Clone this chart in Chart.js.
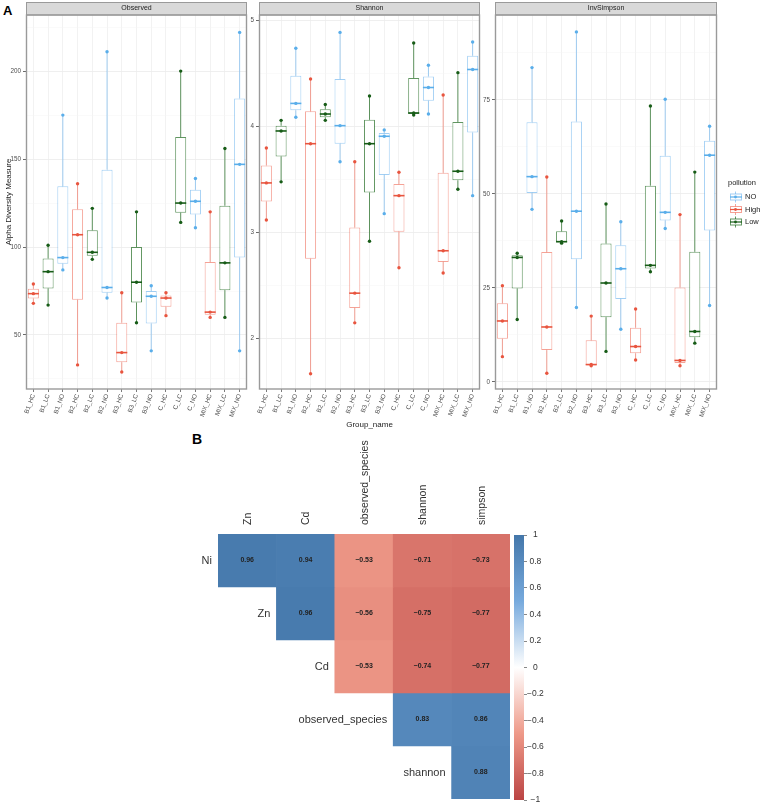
<!DOCTYPE html>
<html><head><meta charset="utf-8">
<script src="https://cdn.jsdelivr.net/npm/chart.js@4.4.1/dist/chart.umd.min.js"></script>
<style>
html,body{margin:0;padding:0;background:#fff;width:761px;height:804px;overflow:hidden;font-family:"Liberation Sans",Arial,sans-serif}
canvas{position:absolute}
.lbl{position:absolute;font-weight:bold;color:#000;line-height:1}
</style></head><body>
<div class="lbl" style="left:3px;top:4px;font-size:13px">A</div>
<div class="lbl" style="left:192px;top:432px;font-size:14px">B</div>
<canvas id="cObs" width="250" height="440" style="left:0px;top:0px"></canvas>
<canvas id="cSha" width="250" height="440" style="left:235px;top:0px"></canvas>
<canvas id="cInv" width="291" height="440" style="left:470px;top:0px"></canvas>
<canvas id="cHeat" width="370" height="374" style="left:150px;top:430px"></canvas>
<canvas id="cBar" width="60" height="285" style="left:505px;top:525px"></canvas>
<script>
// ---------------- DATA ----------------
const groups = ['B1_HC','B1_LC','B1_NO','B2_HC','B2_LC','B2_NO','B3_HC','B3_LC','B3_NO','C_HC','C_LC','C_NO','MIX_HC','MIX_LC','MIX_NO'];
const groupPollution = ['High','Low','NO','High','Low','NO','High','Low','NO','High','Low','NO','High','Low','NO'];
const pollutionLevels = ['NO','High','Low'];

// three samples per group (lowest, middle, highest)
const observedLow  = [68, 67, 87, 33, 93, 71, 29, 57, 41, 61, 114, 111, 60, 60, 41];
const observedMid  = [73.5, 86, 94, 107, 97, 77, 40, 80, 72, 71, 125, 126, 63, 91, 147];
const observedHigh = [79, 101, 175, 136, 122, 211, 74, 120, 78, 74, 200, 139, 120, 156, 222];

const shannonLow  = [3.12, 3.48, 4.09, 1.67, 4.06, 3.67, 2.15, 2.92, 3.18, 2.67, 4.11, 4.12, 2.62, 3.41, 3.35];
const shannonMid  = [3.47, 3.96, 4.22, 3.84, 4.12, 4.01, 2.43, 3.84, 3.91, 3.35, 4.13, 4.37, 2.83, 3.58, 4.54];
const shannonHigh = [3.80, 4.06, 4.74, 4.45, 4.21, 4.89, 3.67, 4.29, 3.97, 3.57, 4.79, 4.58, 4.30, 4.51, 4.80];

const invSimpsonLow  = [6.7, 16.6, 45.9, 2.3, 36.9, 19.8, 4.3, 8.1, 14.0, 5.8, 29.3, 40.8, 4.3, 10.3, 20.3];
const invSimpsonMid  = [16.2, 33.1, 54.6, 14.6, 37.3, 45.4, 4.6, 26.3, 30.1, 9.4, 31.0, 45.1, 5.7, 13.4, 60.3];
const invSimpsonHigh = [25.6, 34.2, 83.6, 54.5, 42.8, 93.1, 17.5, 47.3, 42.6, 19.4, 73.4, 75.2, 44.5, 55.8, 68.0];

const observedRange = [19.3, 231.9];
const observedTicks = [50, 100, 150, 200];
const observedTickLabels = ['50', '100', '150', '200'];
const observedMinor = [25, 75, 125, 175, 225];

const shannonRange = [1.526, 5.054];
const shannonTicks = [2, 3, 4, 5];
const shannonTickLabels = ['2', '3', '4', '5'];
const shannonMinor = [2.5, 3.5, 4.5];

const invSimpsonRange = [-1.9, 97.6];
const invSimpsonTicks = [0, 25, 50, 75];
const invSimpsonTickLabels = ['0', '25', '50', '75'];
const invSimpsonMinor = [12.5, 37.5, 62.5, 87.5];

// correlation matrix (upper triangle)
const corrCols = ['Zn', 'Cd', 'observed_species', 'shannon', 'simpson'];
const corrRows = ['Ni', 'Zn', 'Cd', 'observed_species', 'shannon'];
const corrNi      = [0.96, 0.94, -0.53, -0.71, -0.73];
const corrZn      = [null, 0.96, -0.56, -0.75, -0.77];
const corrCd      = [null, null, -0.53, -0.74, -0.77];
const corrObs     = [null, null, null, 0.83, 0.86];
const corrShannon = [null, null, null, null, 0.88];
const corrMatrix = [corrNi, corrZn, corrCd, corrObs, corrShannon];
const colorbarTicks = [-1, -0.8, -0.6, -0.4, -0.2, 0, 0.2, 0.4, 0.6, 0.8, 1];
const colorbarTickLabels = ['\u22121', '\u22120.8', '\u22120.6', '\u22120.4', '\u22120.2', '0', '0.2', '0.4', '0.6', '0.8', '1'];

// ---------------- STYLE ----------------
const FONT = '"Liberation Sans", Arial, Helvetica, sans-serif';
Chart.defaults.font.family = FONT;
Chart.defaults.animation = false;
Chart.defaults.events = [];
Chart.defaults.plugins.legend.display = false;
Chart.defaults.plugins.tooltip.enabled = false;

const boxColor   = {NO: 'rgba(100,175,236,0.6)', High: 'rgba(238,100,80,0.6)', Low: 'rgba(30,105,30,0.7)'};
const pointColor = {NO: '#5aaeea', High: '#e8553f', Low: '#175c17'};
const paletteStops = [[-1, [187,68,68]], [-0.5, [238,153,136]], [0, [255,255,255]], [0.5, [119,170,221]], [1, [68,119,170]]];

function corrColor(v) {
  for (let i = 0; i < paletteStops.length - 1; i++) {
    const [a, ca] = paletteStops[i], [b, cb] = paletteStops[i + 1];
    if (v >= a && v <= b) {
      const t = (v - a) / (b - a);
      const c = ca.map((x, k) => Math.round(x + (cb[k] - x) * t));
      return `rgb(${c[0]},${c[1]},${c[2]})`;
    }
  }
  return '#fff';
}
function fmtNum(v) { const s = v.toFixed(2); return s.replace('-', '\u2212'); }

function quantile(sorted, p) {
  const h = (sorted.length - 1) * p, lo = Math.floor(h), hi = Math.min(lo + 1, sorted.length - 1);
  return sorted[lo] + (h - lo) * (sorted[hi] - sorted[lo]);
}
function boxStats(lo, mid, hi) {
  return lo.map((_, i) => {
    const s = [lo[i], mid[i], hi[i]].sort((a, b) => a - b);
    return {min: s[0], q1: quantile(s, 0.25), med: quantile(s, 0.5), q3: quantile(s, 0.75), max: s[s.length - 1]};
  });
}

// ---------------- PANEL PLUGIN ----------------
const panelPlugin = {
  id: 'panel',
  beforeDraw(chart) {
    const {ctx, chartArea: a} = chart;
    ctx.save(); ctx.fillStyle = '#fff'; ctx.fillRect(a.left, a.top, a.right - a.left, a.bottom - a.top); ctx.restore();
  },
  beforeDatasetsDraw(chart) {
    const o = chart.options.plugins.panel; const st = o.stats;
    const {ctx} = chart; const y = chart.scales.y; const meta = chart.getDatasetMeta(0);
    ctx.save(); ctx.lineWidth = 1;
    meta.data.forEach((el, i) => {
      ctx.strokeStyle = boxColor[groupPollution[i]];
      ctx.beginPath();
      ctx.moveTo(el.x, y.getPixelForValue(st[i].min)); ctx.lineTo(el.x, y.getPixelForValue(st[i].q1));
      ctx.moveTo(el.x, y.getPixelForValue(st[i].q3)); ctx.lineTo(el.x, y.getPixelForValue(st[i].max));
      ctx.stroke();
    });
    ctx.restore();
  },
  afterDatasetDraw(chart, args) {
    if (args.index !== 0) return;
    const o = chart.options.plugins.panel; const st = o.stats;
    const {ctx} = chart; const y = chart.scales.y; const meta = chart.getDatasetMeta(0);
    ctx.save(); ctx.lineWidth = 1.6;
    meta.data.forEach((el, i) => {
      ctx.strokeStyle = pointColor[groupPollution[i]];
      const py = y.getPixelForValue(st[i].med);
      ctx.beginPath(); ctx.moveTo(el.x - el.width / 2, py); ctx.lineTo(el.x + el.width / 2, py); ctx.stroke();
    });
    ctx.restore();
  },
  afterDraw(chart) {
    const o = chart.options.plugins.panel;
    const {ctx, chartArea: a} = chart;
    ctx.save();
    // strip
    ctx.fillStyle = '#d9d9d9'; ctx.strokeStyle = '#9a9a9a'; ctx.lineWidth = 1;
    ctx.fillRect(a.left, a.top - 13, a.right - a.left, 13);
    ctx.strokeRect(a.left + 0.5, a.top - 12.5, a.right - a.left - 1, 12.5);
    ctx.fillStyle = '#1a1a1a'; ctx.font = '7px ' + FONT; ctx.textAlign = 'center'; ctx.textBaseline = 'middle';
    ctx.fillText(o.title, (a.left + a.right) / 2, a.top - 6.5);
    // border
    ctx.strokeStyle = '#9a9a9a'; ctx.lineWidth = 1.4;
    ctx.strokeRect(a.left + 0.5, a.top, a.right - a.left - 1, a.bottom - a.top);
    // legend
    if (o.legend) {
      const x0 = a.right + 11;
      ctx.fillStyle = '#1a1a1a'; ctx.font = '7.5px ' + FONT; ctx.textAlign = 'left'; ctx.textBaseline = 'middle';
      ctx.fillText('pollution', x0, 183);
      const ys = [197, 209.5, 222];
      pollutionLevels.forEach((lv, k) => {
        const yy = ys[k], bx = x0 + 2, bw = 11, cx = bx + bw / 2;
        ctx.strokeStyle = boxColor[lv]; ctx.lineWidth = 1;
        ctx.beginPath(); ctx.moveTo(cx, yy - 5.5); ctx.lineTo(cx, yy - 3); ctx.moveTo(cx, yy + 3); ctx.lineTo(cx, yy + 5.5); ctx.stroke();
        ctx.strokeRect(bx + 0.5, yy - 3, bw, 6);
        ctx.strokeStyle = pointColor[lv]; ctx.lineWidth = 1.2;
        ctx.beginPath(); ctx.moveTo(bx, yy); ctx.lineTo(bx + bw + 1, yy); ctx.stroke();
        ctx.fillStyle = pointColor[lv]; ctx.beginPath(); ctx.arc(cx, yy, 1.4, 0, Math.PI * 2); ctx.fill();
        ctx.fillStyle = '#1a1a1a'; ctx.fillText(lv, x0 + 17, yy);
      });
    }
    ctx.restore();
  }
};

function makePanel(id, title, lo, mid, hi, range, ticks, tickLabels, minor, yWidth, rightPad, yTitle, xTitle, legend) {
  const st = boxStats(lo, mid, hi);
  const allTicks = [...minor, ...ticks].sort((a, b) => a - b);
  const isMajor = v => ticks.some(t => Math.abs(t - v) < 1e-9);
  const ptDs = (key) => ({
    type: 'line', data: st.map(s => s[key]), showLine: false, order: 0,
    pointRadius: 1.7, pointHoverRadius: 0, pointBorderWidth: 0,
    pointBackgroundColor: groupPollution.map(p => pointColor[p]), pointBorderColor: groupPollution.map(p => pointColor[p])
  });
  return new Chart(document.getElementById(id), {
    type: 'bar',
    data: {
      labels: groups,
      datasets: [
        { type: 'bar', order: 2, data: st.map(s => [s.q1, s.q3]), backgroundColor: '#ffffff',
          borderColor: groupPollution.map(p => boxColor[p]), borderWidth: 1, borderSkipped: false,
          categoryPercentage: 0.75, barPercentage: 1 },
        ptDs('min'), ptDs('med'), ptDs('max')
      ]
    },
    options: {
      responsive: false, devicePixelRatio: 1,
      layout: {padding: {left: 0, right: rightPad, top: 15, bottom: 0}},
      plugins: {panel: {title: title, stats: st, legend: legend}},
      scales: {
        x: {
          offset: true,
          grid: {offset: false, color: '#ececec', lineWidth: 0.7, tickLength: 3, tickColor: '#444', drawTicks: true},
          border: {display: false},
          ticks: {font: {size: 6.3}, color: '#4d4d4d', minRotation: 70, maxRotation: 70, autoSkip: false, padding: 1},
          title: {display: !!xTitle, text: xTitle || '', font: {size: 8}, color: '#1a1a1a', padding: {top: 0, bottom: 10}},
          afterFit: s => { s.height = 51; }
        },
        y: {
          min: range[0], max: range[1],
          afterBuildTicks: s => { s.ticks = allTicks.map(v => ({value: v})); },
          grid: {
            color: c => isMajor(c.tick.value) ? '#ebebeb' : '#f4f4f4',
            lineWidth: c => isMajor(c.tick.value) ? 0.8 : 0.5,
            tickColor: c => isMajor(c.tick.value) ? '#444' : 'rgba(0,0,0,0)',
            tickLength: 3
          },
          border: {display: false},
          ticks: {font: {size: 6.3}, color: '#4d4d4d', padding: 2,
            callback: v => { const i = ticks.findIndex(t => Math.abs(t - v) < 1e-9); return i >= 0 ? tickLabels[i] : ''; }},
          title: {display: !!yTitle, text: yTitle || '', font: {size: 8}, color: '#1a1a1a', padding: {top: 4, bottom: 0}},
          afterFit: s => { s.width = yWidth; }
        }
      }
    },
    plugins: [panelPlugin]
  });
}

makePanel('cObs', 'Observed', observedLow, observedMid, observedHigh, observedRange, observedTicks, observedTickLabels, observedMinor, 26, 3, 'Alpha Diversity Measure', null, false);
makePanel('cSha', 'Shannon', shannonLow, shannonMid, shannonHigh, shannonRange, shannonTicks, shannonTickLabels, shannonMinor, 24, 5, null, 'Group_name', false);
makePanel('cInv', 'InvSimpson', invSimpsonLow, invSimpsonMid, invSimpsonHigh, invSimpsonRange, invSimpsonTicks, invSimpsonTickLabels, invSimpsonMinor, 25, 44, null, null, true);

// ---------------- HEATMAP ----------------
const heatPlugin = {
  id: 'heat',
  afterDatasetsDraw(chart) {
    const {ctx} = chart; const x = chart.scales.x, y = chart.scales.y;
    const cw = x.getPixelForValue(1) - x.getPixelForValue(0);
    ctx.save();
    ctx.textBaseline = 'middle';
    corrMatrix.forEach((row, r) => {
      row.forEach((v, c) => {
        if (v === null) return;
        ctx.font = 'bold 7px ' + FONT; ctx.fillStyle = '#222'; ctx.textAlign = 'center';
        ctx.fillText(fmtNum(v), x.getPixelForValue(c), y.getPixelForValue(r + 0.5));
      });
      const first = row.findIndex(v => v !== null);
      ctx.font = '11px ' + FONT; ctx.fillStyle = '#333'; ctx.textAlign = 'right';
      ctx.fillText(corrRows[r], x.getPixelForValue(first) - cw / 2 - 6, y.getPixelForValue(r + 0.5));
    });
    ctx.restore();
  }
};
new Chart(document.getElementById('cHeat'), {
  type: 'bar',
  data: {
    labels: corrCols,
    datasets: corrMatrix.map((row, r) => ({
      label: corrRows[r],
      data: row.map(v => v === null ? null : [r, r + 1]),
      backgroundColor: row.map(v => v === null ? 'rgba(0,0,0,0)' : corrColor(v)),
      borderWidth: 0, grouped: false, barPercentage: 1, categoryPercentage: 1
    }))
  },
  options: {
    responsive: false, devicePixelRatio: 1,
    layout: {padding: {left: 68, right: 10, top: 0, bottom: 5}},
    scales: {
      x: {position: 'top', offset: true, grid: {display: false, drawTicks: false}, border: {display: false},
        ticks: {font: {size: 10.5}, color: '#333', minRotation: 90, maxRotation: 90, autoSkip: false, padding: 9, labelOffset: 13.5},
        afterFit: s => { s.height = 104; }},
      y: {type: 'linear', min: 0, max: 5, reverse: true, display: false}
    }
  },
  plugins: [heatPlugin]
});

// ---------------- COLORBAR ----------------
const barPlugin = {
  id: 'cbar',
  beforeDatasetsDraw(chart) {
    const {ctx, chartArea: a} = chart; const y = chart.scales.y;
    const y0 = y.getPixelForValue(-1), y1 = y.getPixelForValue(1);
    const g = ctx.createLinearGradient(0, y0, 0, y1);
    paletteStops.forEach(([v, c]) => g.addColorStop((v + 1) / 2, `rgb(${c[0]},${c[1]},${c[2]})`));
    ctx.save(); ctx.fillStyle = g; ctx.fillRect(a.left, y1, a.right - a.left, y0 - y1); ctx.restore();
  }
};
new Chart(document.getElementById('cBar'), {
  type: 'bar',
  data: {labels: [''], datasets: []},
  options: {
    responsive: false, devicePixelRatio: 1,
    layout: {padding: {left: 9, right: 0, top: 10, bottom: 10}},
    scales: {
      x: {display: false},
      y: {display: true, position: 'right', min: -1, max: 1,
        afterBuildTicks: s => { s.ticks = colorbarTicks.map(v => ({value: v})); },
        grid: {drawOnChartArea: false, drawTicks: true, tickLength: 3, tickColor: '#888'},
        border: {display: false},
        ticks: {font: {size: 8.5}, color: '#333', crossAlign: 'center', padding: 0,
          callback: v => { const i = colorbarTicks.findIndex(t => Math.abs(t - v) < 1e-9); return i >= 0 ? colorbarTickLabels[i] : ''; }},
        afterFit: s => { s.width = 41; }}
    }
  },
  plugins: [barPlugin]
});
</script>
</body></html>
